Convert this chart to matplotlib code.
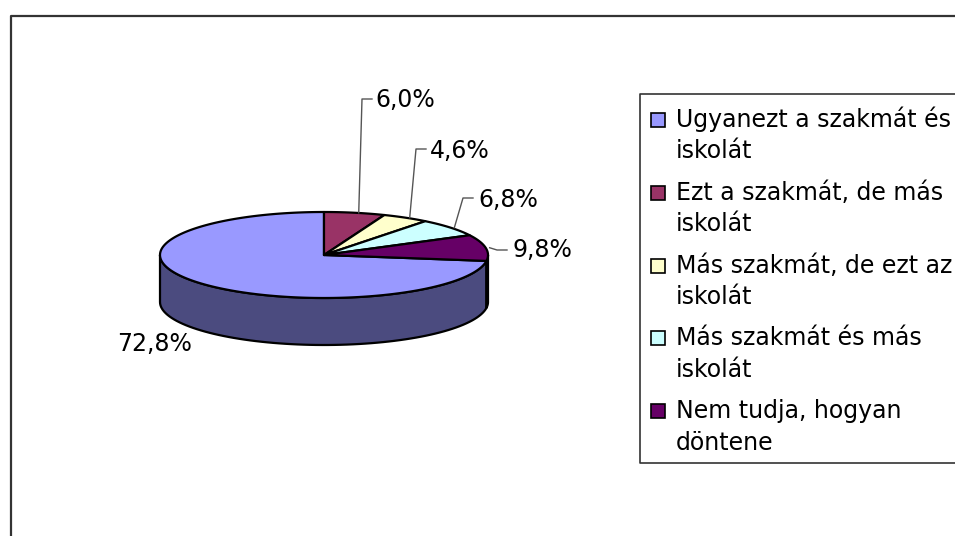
import numpy as np
import matplotlib.pyplot as plt
from matplotlib.patches import Polygon, Rectangle

categories = ["Ugyanezt a szakmát és\niskolát",
              "Ezt a szakmát, de más\niskolát",
              "Más szakmát, de ezt az\niskolát",
              "Más szakmát és más\niskolát",
              "Nem tudja, hogyan\ndöntene"]
shares = [72.8, 6.0, 4.6, 6.8, 9.8]
value_labels = ["72,8%", "6,0%", "4,6%", "6,8%", "9,8%"]
top_colors = ["#9999FF", "#993366", "#FFFFCC", "#CCFFFF", "#660066"]
side_colors = ["#4B4B7F", "#4C1933", "#7F7F66", "#667F7F", "#330033"]

plt.rcParams['font.family'] = ['DejaVu Sans']
FS = 17

fig = plt.figure(figsize=(9.55, 5.36), dpi=100)
ax = fig.add_axes([0, 0, 1, 1])
ax.set_xlim(0, 955)
ax.set_ylim(536, 0)
ax.axis('off')

# outer chart frame (runs off the right and bottom)
ax.plot([10.5, 10.5, 960], [540, 15.5, 15.5], color='#333333', lw=1.6, clip_on=False)

# pie geometry (pixels)
cx, cy = 324, 255
rx, ry = 164, 43
depth = 47

vals = np.array(shares)
# slices go clockwise, first slice ends at 12 o'clock
start = 90 + 360 * vals[0] / vals.sum()
edges = start - 360 * np.concatenate([[0], np.cumsum(vals)]) / vals.sum()


def pt(t, dy=0):
    r = np.radians(t)
    return cx + rx * np.cos(r), cy - ry * np.sin(r) + dy


# side faces (front half only)
for i in range(len(vals)):
    lo, hi = edges[i + 1], edges[i]
    for k in (-1, 0, 1):
        a = max(lo, 180 + 360 * k)
        b = min(hi, 360 + 360 * k)
        if b <= a:
            continue
        t = np.linspace(a, b, 80)
        xs, ys = pt(t)
        xb, yb = pt(t[::-1], depth)
        poly = np.column_stack([np.concatenate([xs, xb]), np.concatenate([ys, yb])])
        ax.add_patch(Polygon(poly, closed=True, facecolor=side_colors[i],
                             edgecolor='black', lw=1.6, joinstyle='round'))

# top faces
for i in range(len(vals)):
    t = np.linspace(edges[i], edges[i + 1], 200)
    xs, ys = pt(t)
    poly = np.column_stack([np.concatenate([[cx], xs]), np.concatenate([[cy], ys])])
    ax.add_patch(Polygon(poly, closed=True, facecolor=top_colors[i],
                         edgecolor='black', lw=1.6, joinstyle='round'))

# value labels with leader lines
elbows = [None, (362, 99), (416, 149), (463, 198), (497, 250)]
text_x = [117, 375, 430, 478, 512]
baselines = [351.5, 107.5, 158, 206.5, 256.5]
mids = (edges[:-1] + edges[1:]) / 2
for i in range(len(vals)):
    if elbows[i] is not None:
        ex, ey = pt(mids[i])
        bx, by = elbows[i]
        ax.plot([ex + 4, bx, bx + 10], [ey, by, by], color='#555555', lw=1.0)
    ax.text(text_x[i], baselines[i], value_labels[i], fontsize=FS,
            ha='left', va='baseline')

# legend (box runs off the right edge)
ax.plot([980, 639.5, 639.5, 980], [93.5, 93.5, 462.5, 462.5],
        color='#333333', lw=1.2, clip_on=False)
for i, lab in enumerate(categories):
    base = 127 + i * 72.75
    ax.add_patch(Rectangle((651, base - 14), 14, 14, facecolor=top_colors[i],
                           edgecolor='black', lw=1.2))
    for j, line in enumerate(lab.split("\n")):
        ax.text(676, base + j * 31.5, line, fontsize=FS, ha='left', va='baseline')

fig.savefig("out.png", dpi=100)
